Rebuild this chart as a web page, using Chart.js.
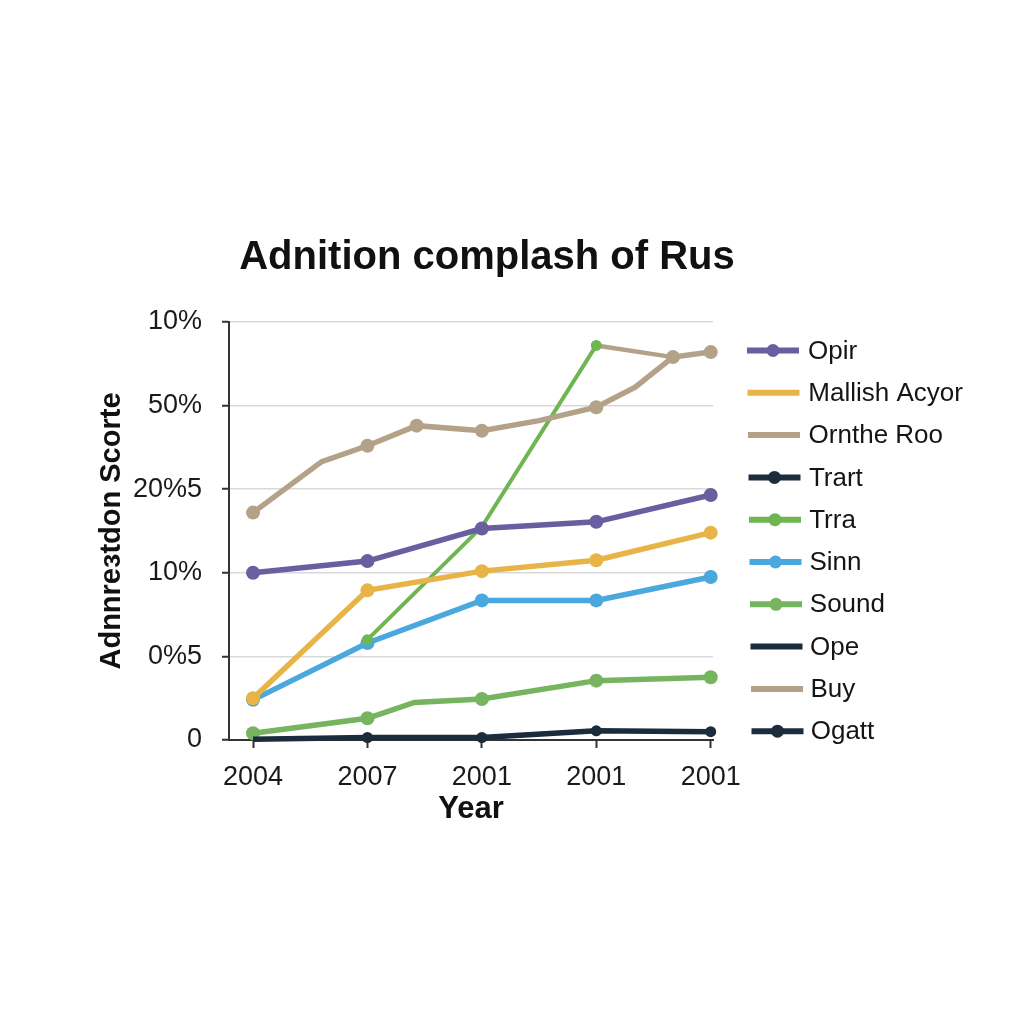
<!DOCTYPE html>
<html><head><meta charset="utf-8">
<script src="https://cdn.jsdelivr.net/npm/chart.js@4.4.1/dist/chart.umd.min.js"></script>
<style>html,body{margin:0;padding:0;background:#fff}canvas{display:block}</style>
</head><body>
<canvas id="c" width="1024" height="1024"></canvas>
<script>
const chartTitle = 'Adnition complash of Rus';
const xAxisTitle = 'Year';
const yAxisTitle = 'Adnnreɜtdon Scorte';
const xTickLabels = ['2004', '2007', '2001', '2001', '2001'];
const yTickLabels = ['0', '0%5', '10%', '20%5', '50%', '10%'];
const seriesNames = ['Opir', 'Mallish Acyor', 'Ornthe Roo', 'Trart', 'Trra', 'Sinn', 'Sound', 'Ope', 'Buy', 'Ogatt'];

const opirX = [0, 1, 2, 3, 4];
const opirY = [2.00, 2.14, 2.53, 2.61, 2.93];
const mallishX = [0, 1, 2, 3, 4];
const mallishY = [0.50, 1.79, 2.02, 2.15, 2.48];
const ornX = [0, 0.6, 1, 1.43, 2, 2.5, 3, 3.34, 3.67, 4];
const ornY = [2.72, 3.33, 3.52, 3.76, 3.70, 3.82, 3.98, 4.22, 4.58, 4.64];
const trartX = [0, 1, 2, 3, 4];
const trartY = [0.01, 0.03, 0.03, 0.11, 0.10];
const trraX = [1, 2, 3];
const trraY = [1.20, 2.55, 4.72];
const sinnX = [0, 1, 2, 3, 4];
const sinnY = [0.48, 1.16, 1.67, 1.67, 1.95];
const soundX = [0, 1, 1.41, 2, 3, 4];
const soundY = [0.08, 0.26, 0.45, 0.49, 0.71, 0.75];
const opeX = [];
const opeY = [];
const buyX = [3, 3.67];
const buyY = [4.72, 4.58];
const ogattX = [];
const ogattY = [];

const FONT = "'Liberation Sans', Arial, Helvetica, sans-serif";
const zip = (xs, ys) => xs.map((x, i) => ({x: x, y: ys[i]}));

function ds(name, xs, ys, color, opts) {
  opts = opts || {};
  const hide = opts.noMarker || [];
  const r = opts.r === undefined ? 7 : opts.r;
  return {
    label: name,
    data: zip(xs, ys),
    borderColor: color,
    backgroundColor: color,
    borderWidth: opts.w || 5.5,
    pointBackgroundColor: color,
    pointBorderColor: color,
    pointBorderWidth: 0,
    pointRadius: ctx => hide.includes(ctx.dataIndex) ? 0 : r,
    tension: 0,
    clip: false,
    legendMarker: !!opts.legendMarker
  };
}

const C = {
  purple: '#675f9f', orange: '#e8b448', beige: '#b3a287', dark: '#1b2c3c',
  green: '#6fb552', blue: '#4aa8de', green2: '#76b45f'
};

const datasets = [
  ds(seriesNames[0], opirX, opirY, C.purple, {legendMarker: true}),
  ds(seriesNames[1], mallishX, mallishY, C.orange, {}),
  ds(seriesNames[2], ornX, ornY, C.beige, {noMarker: [1, 5, 7]}),
  ds(seriesNames[3], trartX, trartY, C.dark, {noMarker: [0], r: 5.5, legendMarker: true}),
  ds(seriesNames[4], trraX, trraY, C.green, {w: 4, r: 5.5, noMarker: [1], legendMarker: true}),
  ds(seriesNames[5], sinnX, sinnY, C.blue, {legendMarker: true}),
  ds(seriesNames[6], soundX, soundY, C.green2, {noMarker: [2], legendMarker: true}),
  ds(seriesNames[7], opeX, opeY, C.dark, {r: 0}),
  ds(seriesNames[8], buyX, buyY, C.beige, {w: 4.5, r: 0}),
  ds(seriesNames[9], ogattX, ogattY, C.dark, {legendMarker: true})
];

const decor = {
  id: 'decor',
  afterDraw(chart) {
    const ctx = chart.ctx;
    ctx.save();
    ctx.fillStyle = '#111';
    ctx.font = 'bold 40px ' + FONT;
    ctx.textAlign = 'center';
    ctx.textBaseline = 'middle';
    ctx.fillText(chartTitle, 487, 258);
    chart.data.datasets.forEach((d, i) => {
      const y = 350.5 + i * 42.3;
      const x0 = 747 + i * 0.5;
      ctx.strokeStyle = d.borderColor;
      ctx.lineWidth = 6;
      ctx.lineCap = 'butt';
      ctx.beginPath();
      ctx.moveTo(x0, y);
      ctx.lineTo(x0 + 52, y);
      ctx.stroke();
      if (d.legendMarker) {
        ctx.fillStyle = d.borderColor;
        ctx.beginPath();
        ctx.arc(x0 + 26, y, 6.5, 0, Math.PI * 2);
        ctx.fill();
      }
      ctx.fillStyle = '#151515';
      ctx.font = '26px ' + FONT;
      ctx.textAlign = 'left';
      ctx.textBaseline = 'middle';
      ctx.fillText(d.label, 808 + i * 0.3, y + 1);
    });
    ctx.restore();
  }
};

new Chart(document.getElementById('c'), {
  type: 'line',
  data: {datasets: datasets},
  options: {
    responsive: false,
    animation: false,
    devicePixelRatio: 1,
    layout: {padding: {left: 95, right: 311, top: 322, bottom: 196}},
    plugins: {legend: {display: false}, title: {display: false}, tooltip: {enabled: false}},
    scales: {
      x: {
        type: 'linear',
        min: -0.21,
        max: 4.02,
        afterBuildTicks: s => { s.ticks = xTickLabels.map((_, i) => ({value: i})); },
        afterFit: s => { s.height = 88; },
        ticks: {
          callback: (v) => xTickLabels[v],
          color: '#1a1a1a',
          font: {family: FONT, size: 27},
          padding: 13,
          maxRotation: 0,
          autoSkip: false
        },
        grid: {drawOnChartArea: false, tickLength: 8, tickColor: '#333', tickWidth: 2},
        border: {display: true, color: '#333', width: 2},
        title: {display: true, text: xAxisTitle, color: '#111', font: {family: FONT, size: 31, weight: 'bold'}, padding: 0}
      },
      y: {
        type: 'linear',
        min: 0,
        max: 5,
        afterBuildTicks: s => { s.ticks = yTickLabels.map((_, i) => ({value: i})); },
        afterFit: s => { s.width = 134; },
        ticks: {
          callback: (v) => yTickLabels[v],
          color: '#1a1a1a',
          font: {family: FONT, size: 27},
          padding: 20,
          autoSkip: false
        },
        grid: {color: '#d9d9d9', lineWidth: 1.5, tickLength: 7, tickColor: '#333', tickWidth: 2},
        border: {display: true, color: '#333', width: 2},
        title: {display: true, text: yAxisTitle, color: '#111', font: {family: FONT, size: 29, weight: 'bold'}, padding: 0}
      }
    }
  },
  plugins: [decor]
});
</script>
</body></html>
